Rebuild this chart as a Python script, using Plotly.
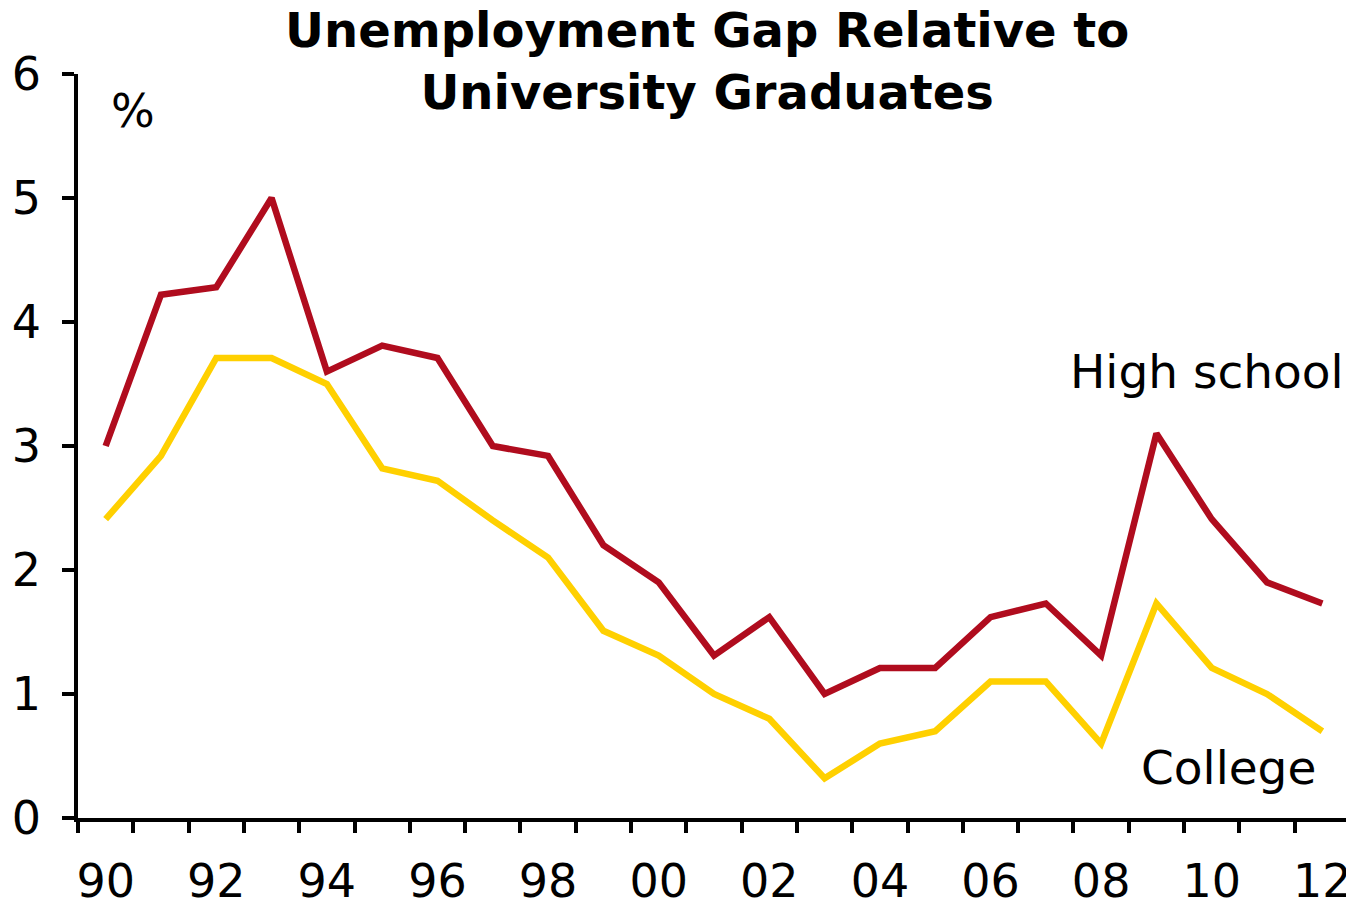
import plotly.graph_objects as go

years = list(range(1990, 2013))
high_school = [3.0, 4.22, 4.28, 5.0, 3.6, 3.81, 3.71, 3.0, 2.92, 2.2, 1.9, 1.31,
               1.62, 1.0, 1.21, 1.21, 1.62, 1.73, 1.31, 3.1, 2.41, 1.9, 1.73]
college = [2.41, 2.92, 3.71, 3.71, 3.5, 2.82, 2.72, 2.4, 2.1, 1.51, 1.31, 1.0,
           0.8, 0.32, 0.6, 0.7, 1.1, 1.1, 0.6, 1.73, 1.21, 1.0, 0.7]
tick_years = list(range(1990, 2013, 2))
tick_labels = ["90", "92", "94", "96", "98", "00", "02", "04", "06", "08", "10", "12"]

FONT = "DejaVu Sans, Verdana, sans-serif"

fig = go.Figure()
fig.add_trace(go.Scatter(x=years, y=college, mode="lines",
                         line=dict(color="#FFD000", width=6.5), name="College"))
fig.add_trace(go.Scatter(x=years, y=high_school, mode="lines",
                         line=dict(color="#B00C1E", width=6.5), name="High school"))

fig.update_layout(
    width=1346, height=896,
    margin=dict(l=70, r=4, t=66, b=86),
    paper_bgcolor="white", plot_bgcolor="white",
    showlegend=False,
    font=dict(family=FONT, color="black", size=46),
    xaxis=dict(range=[1989.5, 2012.5], tickvals=tick_years, ticktext=tick_labels,
               ticks="", showgrid=False, zeroline=False, automargin=False,
               showline=True, linecolor="black", linewidth=3.5,
               tickfont=dict(size=46), ticklabelstandoff=20,
               minor=dict(ticks="outside", tick0=1989.5, dtick=1, ticklen=11,
                          tickwidth=3.5, tickcolor="black", showgrid=False)),
    yaxis=dict(range=[0, 6], tickvals=[0, 1, 2, 3, 4, 5, 6], ticks="outside",
               ticklen=12, tickwidth=3.5, tickcolor="black", automargin=False,
               showgrid=False, zeroline=False,
               showline=True, linecolor="black", linewidth=3.5,
               tickfont=dict(size=46), ticklabelstandoff=12),
    annotations=[
        dict(text="<b>Unemployment Gap Relative to<br>University Graduates</b>",
             x=0.4945, y=1, xref="paper", yref="paper", showarrow=False,
             xanchor="center", yanchor="top", yshift=74,
             font=dict(size=48)),
        dict(text="%", x=1990.5, y=5.7, xref="x", yref="y", showarrow=False,
             font=dict(size=46), xanchor="center", yanchor="middle"),
        dict(text="High school", x=2012.42, y=3.60, xref="x", yref="y", showarrow=False,
             font=dict(size=47), xanchor="right", yanchor="middle"),
        dict(text="College", x=2011.92, y=0.41, xref="x", yref="y", showarrow=False,
             font=dict(size=47), xanchor="right", yanchor="middle"),
    ],
)

fig.write_html("out.html")
